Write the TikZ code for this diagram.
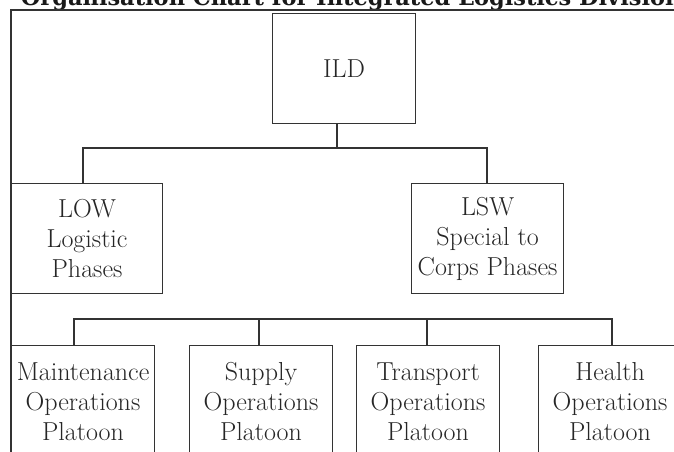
\documentclass[tikz,border=0pt]{standalone}
\usepackage{fontspec}
\usepackage{tikz}
\newfontfamily\headfont{DejaVu Serif}

\begin{document}
\begin{tikzpicture}[x=1pt,y=-1pt,line width=1.1pt,draw=black!80,
    unit/.style={shape=rectangle,draw=black!80,anchor=north west,inner sep=0pt,
        minimum width=143pt,minimum height=110pt,align=center,text=black!85,
        font=\fontsize{26}{30}\selectfont},
    platoon/.style={unit,minimum height=112pt}]
    \useasboundingbox (0,0) rectangle (674,451);
    \node[anchor=base west,text=black!90,font=\headfont\fontsize{22.5}{26}\selectfont\bfseries] (title) at (17,5) {Organisation Chart for Integrated Logistics Division};
    \draw (674,10) -- (11,10) -- (11,460);
    \node[unit] (ild) at (272,13) {ILD};
    \node[unit,minimum width=151pt] (low) at (11,183) {LOW\\Logistic\\Phases};
    \node[unit,minimum width=152pt] (lsw) at (411,183) {LSW\\Special to\\Corps Phases};
    \node[platoon] (maint) at (11,345) {Maintenance\\Operations\\Platoon};
    \node[platoon] (supply) at (189,345) {Supply\\Operations\\Platoon};
    \node[platoon] (transport) at (356,345) {Transport\\Operations\\Platoon};
    \node[platoon] (health) at (538,345) {Health\\Operations\\Platoon};
    \coordinate (hub) at (337,148);
    \coordinate (j1) at (83,148);
    \coordinate (j2) at (487,148);
    \coordinate (k1) at (74,319);
    \coordinate (k2) at (259,319);
    \coordinate (k3) at (427,319);
    \coordinate (k4) at (612,319);
    \draw (hub |- ild.south) -- (hub);
    \draw (j1 |- low.north) -- (j1) -- (j2) -- (j2 |- lsw.north);
    \draw (k1 |- maint.north) -- (k1) -- (k4) -- (k4 |- health.north);
    \draw (k2) -- (k2 |- supply.north);
    \draw (k3) -- (k3 |- transport.north);
\end{tikzpicture}
\end{document}
